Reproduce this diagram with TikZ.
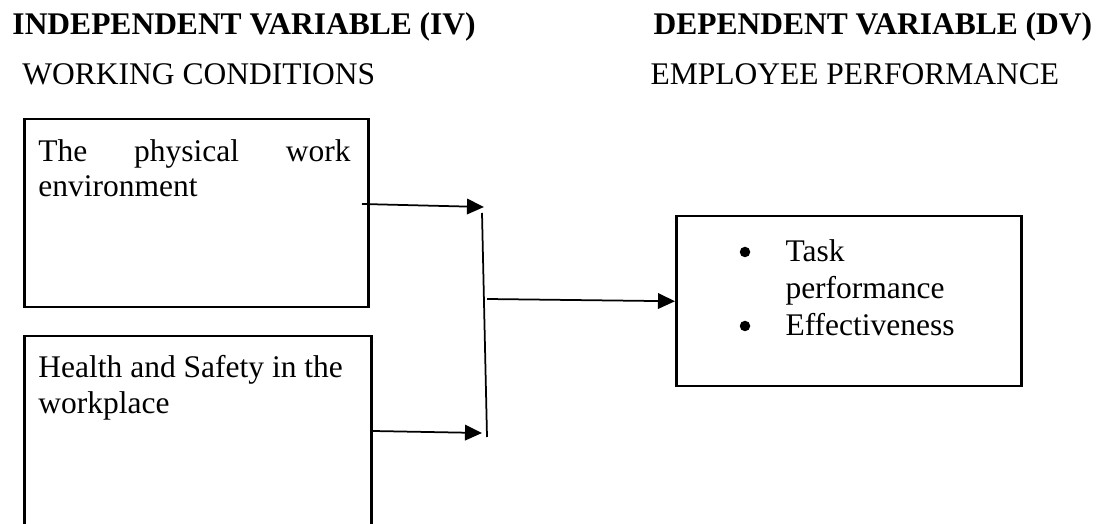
\documentclass[tikz,border=0pt]{standalone}
\usepackage{fontspec}
\setmainfont{Liberation Serif}
\usetikzlibrary{arrows.meta}
\begin{document}
\begin{tikzpicture}[x=0.4pt,y=-0.4pt,
  every node/.style={inner sep=0pt, font=\fontsize{12.6}{14.4}\selectfont},
  txt/.style={anchor=base west},
  hd/.style={anchor=base west, font=\fontsize{12.6}{14.4}\selectfont\bfseries},
  boxnode/.style={draw, line width=1pt, anchor=north west},
  dot/.style={circle, fill, minimum size=4.2pt},
  conn/.style={line width=0.7pt},
  arr/.style={conn, -{Triangle[length=6.8pt,width=6.2pt]}}]
\useasboundingbox (0,0) rectangle (1105,524);
\clip (0,0) rectangle (1105,524);
% headings
\node[hd] (iv) at (12,35) {INDEPENDENT VARIABLE (IV)};
\node[hd] (dv) at (653,35) {DEPENDENT VARIABLE (DV)};
\node[txt] (wc) at (22,85) {WORKING CONDITIONS};
\node[txt] (ep) at (650,85) {EMPLOYEE PERFORMANCE};
% boxes
\node[boxnode, minimum width=137.6pt, minimum height=75.2pt] (b1) at (23,118) {};
\node[boxnode, minimum width=138.8pt, minimum height=90pt] (b2) at (23,335) {};
\node[boxnode, minimum width=138pt, minimum height=68pt] (b3) at (675,215) {};
% box texts
\node[txt] (t1a) at (38,162) {\makebox[124.8pt][s]{The physical work}};
\node[txt] (t1b) at (38,197) {environment};
\node[txt] (t2a) at (38,378) {Health and Safety in the};
\node[txt] (t2b) at (38,414) {workplace};
\node[dot] (bu1) at (745,252) {};
\node[txt] (l1) at (785,262) {Task};
\node[txt] (l2) at (785,299) {performance};
\node[dot] (bu2) at (745,326) {};
\node[txt] (l3) at (785,336) {Effectiveness};
% connectors
\coordinate (vt) at (482,213);
\coordinate (vb) at (487,437);
\coordinate (a1s) at (362,204);
\coordinate (a1e) at (484,207);
\coordinate (a2s) at (373,431);
\coordinate (a2e) at (482,433);
\coordinate (a3s) at (487,299);
\draw[conn] (vt) -- (vb);
\draw[arr] (a1s) -- (a1e);
\draw[arr] (a2s) -- (a2e);
\draw[arr] (a3s) -- (b3.west);
\end{tikzpicture}
\end{document}
